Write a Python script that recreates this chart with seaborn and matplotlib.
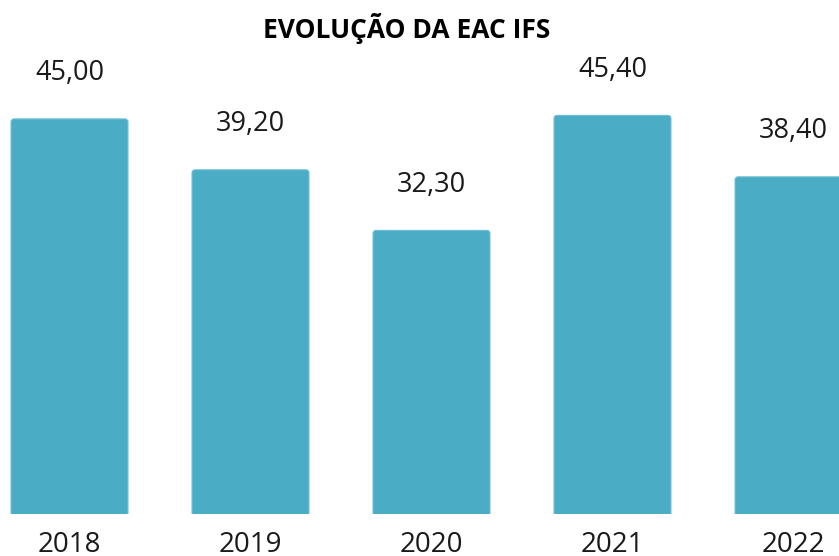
import matplotlib
matplotlib.use("Agg")
import matplotlib.pyplot as plt
import seaborn as sns
import pandas as pd
from matplotlib.patches import FancyBboxPatch

years = ["2018", "2019", "2020", "2021", "2022"]
values = [45.00, 39.20, 32.30, 45.40, 38.40]
title = "EVOLUÇÃO DA EAC IFS"

sns.set_theme(style="white")
plt.rcParams['font.family'] = ['Open Sans', 'DejaVu Sans']

df = pd.DataFrame({"ano": years, "valor": values})

W, H = 839, 556
fig = plt.figure(figsize=(W / 100, H / 100), dpi=100)
ax_bottom_px = 514
ax = fig.add_axes([0, (H - ax_bottom_px) / H, 1, ax_bottom_px / H])

color = "#4BACC6"
sns.barplot(data=df, x="ano", y="valor", color=color, width=0.646, ax=ax,
            saturation=1)

px_per_unit_x = 181
px_per_unit_y = 8.78
ax.set_xlim(-69.5 / px_per_unit_x, (W - 69.5) / px_per_unit_x)
ax.set_ylim(0, ax_bottom_px / px_per_unit_y)

# rounded corners
rs = 3 / px_per_unit_x
aspect = px_per_unit_x / px_per_unit_y
for p in list(ax.patches):
    x, y = p.get_x(), p.get_y()
    w, h = p.get_width(), p.get_height()
    p.set_visible(False)
    fb = FancyBboxPatch((x, y - 2), w, h + 2,
                        boxstyle=f"round,pad=0,rounding_size={rs}",
                        mutation_aspect=aspect, facecolor=color,
                        edgecolor="#6DBFD3", linewidth=0.8)
    ax.add_patch(fb)

for i, v in enumerate(values):
    ax.annotate(f"{v:.2f}".replace(".", ","), (i, v), xytext=(0, 33),
                textcoords="offset points", ha="center", va="center",
                fontsize=19.5, color="#1a1a1a")

ax.set_xlabel("")
ax.set_ylabel("")
ax.set_yticks([])
ax.tick_params(axis="x", length=0, pad=12, labelsize=20, labelcolor="#1a1a1a")
for s in ax.spines.values():
    s.set_visible(False)

fig.text(407 / W, 1 - 28 / H, title, ha="center", va="center",
         fontsize=19, fontweight="bold", color="#000000")

fig.savefig("out.png", dpi=100)
